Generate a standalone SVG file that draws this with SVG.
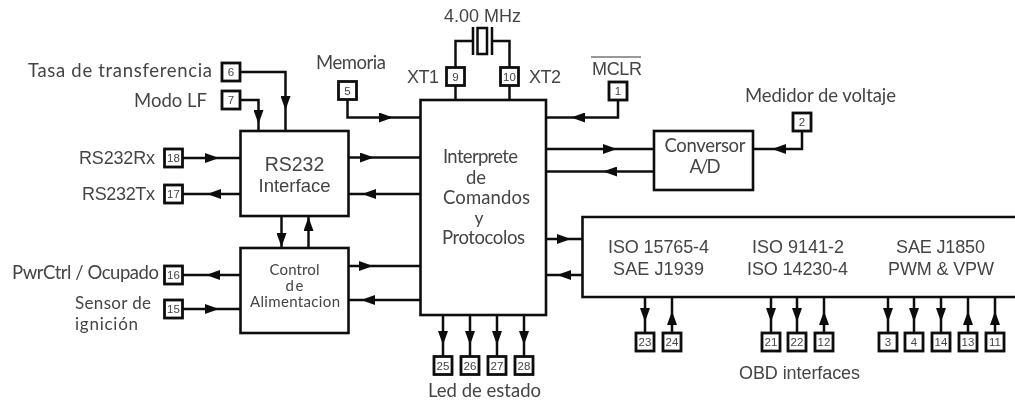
<svg xmlns="http://www.w3.org/2000/svg" width="1015" height="402" viewBox="0 0 1015 402">
<style>
.w{fill:none;stroke:#111;stroke-width:2.5}
.a{fill:none;stroke:#111;stroke-width:2.5;marker-end:url(#h)}
.b{fill:#fff;stroke:#111;stroke-width:2.6}
.p{fill:#fff;stroke:#111;stroke-width:2.8}
text{fill:#444;font-family:"Liberation Sans",Arial,sans-serif}
.g{font-family:"Lato","Liberation Sans",sans-serif;font-size:18.5px}
.c{font-size:15px}
.s{font-size:17px}
.y{font-size:17.5px}
.l{font-size:18px}
.n{font-size:11.500px;text-anchor:middle}
.m{text-anchor:middle}
</style>
<defs>
<marker id="h" markerUnits="userSpaceOnUse" viewBox="0 0 14 10" refX="14" refY="5" markerWidth="14" markerHeight="10" orient="auto"><path d="M0 0L14 5L0 10Z" fill="#111"/></marker>
<filter id="f" x="0" y="0" width="100%" height="100%"><feGaussianBlur stdDeviation="0.35"/></filter>
</defs>
<rect width="1015" height="402" fill="#fff"/>
<g filter="url(#f)">
<g id="connectors">
<path class="a" d="M240 72H285.500V110"/><path class="w" d="M285.500 110V131"/>
<path class="a" d="M240 100H258.500V124"/><path class="w" d="M258.500 124V131"/>
<path class="a" d="M347.500 100V117.500H393"/><path class="w" d="M393 117.500H420"/>
<path class="a" d="M183 158H219"/><path class="w" d="M219 158H240"/>
<path class="a" d="M240 194H207"/><path class="w" d="M207 194H183"/>
<path class="a" d="M348 157.500H374"/><path class="w" d="M374 157.500H420"/>
<path class="a" d="M420 194H362"/><path class="w" d="M362 194H348"/>
<path class="a" d="M281.500 216V247"/>
<path class="a" d="M308.500 248V217"/>
<path class="a" d="M240 275H206"/><path class="w" d="M206 275H183"/>
<path class="a" d="M183 309H219"/><path class="w" d="M219 309H240"/>
<path class="a" d="M348 266H373"/><path class="w" d="M373 266H420"/>
<path class="a" d="M420 300H361"/><path class="w" d="M361 300H348"/>
<path class="a" d="M618 100V117.500H571"/><path class="w" d="M571 117.500H546"/>
<path class="a" d="M546 149H617"/><path class="w" d="M617 149H654"/>
<path class="a" d="M654 171.500H603"/><path class="w" d="M603 171.500H546"/>
<path class="a" d="M802 132V149H772"/><path class="w" d="M772 149H753"/>
<path class="a" d="M546 239H571"/><path class="w" d="M571 239H582"/>
<path class="a" d="M582 275H557"/><path class="w" d="M557 275H546"/>
<path class="w" d="M455.500 67V41H473M492 41H509.500V67M455.500 86V100M509.500 86V100"/>
<path class="w" d="M473 27V55M492 27V55"/>
<rect class="w" x="477.500" y="28" width="9.500" height="26"/>
<path class="a" d="M443 315V345"/><path class="w" d="M443 345V356"/>
<path class="a" d="M470 315V345"/><path class="w" d="M470 345V356"/>
<path class="a" d="M497 315V345"/><path class="w" d="M497 345V356"/>
<path class="a" d="M524 315V345"/><path class="w" d="M524 345V356"/>
<path class="a" d="M645 297V322"/><path class="w" d="M645 322V332"/>
<path class="a" d="M672 332V311"/><path class="w" d="M672 311V297"/>
<path class="a" d="M771 297V322"/><path class="w" d="M771 322V332"/>
<path class="a" d="M797 297V322"/><path class="w" d="M797 322V332"/>
<path class="a" d="M824 332V311"/><path class="w" d="M824 311V297"/>
<path class="a" d="M888 297V322"/><path class="w" d="M888 322V332"/>
<path class="a" d="M914 297V322"/><path class="w" d="M914 322V332"/>
<path class="a" d="M941 297V322"/><path class="w" d="M941 322V332"/>
<path class="a" d="M968 332V311"/><path class="w" d="M968 311V297"/>
<path class="a" d="M995 332V311"/><path class="w" d="M995 311V297"/>
</g>
<g id="rs232"><rect class="b" x="240.500" y="131" width="108" height="85"/>
<text class="m" x="294.500" y="171" font-size="19.500">RS232</text><text class="m" x="294.500" y="192" font-size="18.500">Interface</text></g>
<g id="control"><rect class="b" x="240.500" y="248" width="108" height="85"/>
<text class="g c m" x="294.500" y="275" textLength="50">Control</text><text class="g c m" x="294.500" y="291" textLength="18">de</text><text class="g c m" x="295" y="307" textLength="90">Alimentacion</text></g>
<g id="main"><rect class="b" x="420.500" y="100" width="125.500" height="215"/>
<text class="g m" x="480.500" y="163" textLength="75">Interprete</text><text class="g m" x="476" y="184" textLength="20">de</text><text class="g m" x="486.500" y="204" textLength="87">Comandos</text><text class="g y m" x="479" y="224">y</text><text class="g m" x="483.500" y="244" textLength="83">Protocolos</text></g>
<g id="conversor"><rect class="b" x="654" y="131" width="99" height="59"/>
<text class="g m" x="705" y="152" textLength="81">Conversor</text><text class="g m" x="705" y="173" textLength="31">A/D</text></g>
<g id="obd"><path class="b" d="M1017 217H582.500V297H1017"/>
<text class="l m" x="658.500" y="253" textLength="101">ISO 15765-4</text><text class="l m" x="658.500" y="275" textLength="91">SAE J1939</text>
<text class="l m" x="798" y="253" textLength="92">ISO 9141-2</text><text class="l m" x="797.500" y="275" textLength="101">ISO 14230-4</text>
<text class="l m" x="940.500" y="253" textLength="89">SAE J1850</text><text class="l m" x="941" y="275" textLength="106">PWM &amp; VPW</text></g>
<g id="pin6"><rect class="p" x="222" y="63" width="18" height="18"/><text class="n" x="231" y="76">6</text></g>
<g id="pin7"><rect class="p" x="222" y="91" width="18" height="18"/><text class="n" x="231" y="104">7</text></g>
<g id="pin5"><rect class="p" x="338.500" y="81.500" width="18" height="18"/><text class="n" x="347.500" y="94.500">5</text></g>
<g id="pin18"><rect class="p" x="164.500" y="149" width="18" height="18"/><text class="n" x="173.500" y="162">18</text></g>
<g id="pin17"><rect class="p" x="164.500" y="185" width="18" height="18"/><text class="n" x="173.500" y="198">17</text></g>
<g id="pin16"><rect class="p" x="164.500" y="266" width="18" height="18"/><text class="n" x="173.500" y="279">16</text></g>
<g id="pin15"><rect class="p" x="164.500" y="300" width="18" height="18"/><text class="n" x="173.500" y="313">15</text></g>
<g id="pin9"><rect class="p" x="446.500" y="67.500" width="18" height="18"/><text class="n" x="455.500" y="80.500">9</text></g>
<g id="pin10"><rect class="p" x="500.500" y="67.500" width="18" height="18"/><text class="n" x="509.500" y="80.500">10</text></g>
<g id="pin1"><rect class="p" x="609" y="82" width="18" height="18"/><text class="n" x="618" y="95">1</text></g>
<g id="pin2"><rect class="p" x="793" y="113" width="18" height="18"/><text class="n" x="802" y="126">2</text></g>
<g id="pin25"><rect class="p" x="434" y="356.500" width="18" height="18"/><text class="n" x="443" y="369.500">25</text></g>
<g id="pin26"><rect class="p" x="461" y="356.500" width="18" height="18"/><text class="n" x="470" y="369.500">26</text></g>
<g id="pin27"><rect class="p" x="488" y="356.500" width="18" height="18"/><text class="n" x="497" y="369.500">27</text></g>
<g id="pin28"><rect class="p" x="515" y="356.500" width="18" height="18"/><text class="n" x="524" y="369.500">28</text></g>
<g id="pin23"><rect class="p" x="636" y="333" width="18" height="18"/><text class="n" x="645" y="346">23</text></g>
<g id="pin24"><rect class="p" x="663" y="333" width="18" height="18"/><text class="n" x="672" y="346">24</text></g>
<g id="pin21"><rect class="p" x="762" y="333" width="18" height="18"/><text class="n" x="771" y="346">21</text></g>
<g id="pin22"><rect class="p" x="788" y="333" width="18" height="18"/><text class="n" x="797" y="346">22</text></g>
<g id="pin12"><rect class="p" x="815" y="333" width="18" height="18"/><text class="n" x="824" y="346">12</text></g>
<g id="pin3"><rect class="p" x="879" y="333" width="18" height="18"/><text class="n" x="888" y="346">3</text></g>
<g id="pin4"><rect class="p" x="905" y="333" width="18" height="18"/><text class="n" x="914" y="346">4</text></g>
<g id="pin14"><rect class="p" x="932" y="333" width="18" height="18"/><text class="n" x="941" y="346">14</text></g>
<g id="pin13"><rect class="p" x="959" y="333" width="18" height="18"/><text class="n" x="968" y="346">13</text></g>
<g id="pin11"><rect class="p" x="986" y="333" width="18" height="18"/><text class="n" x="995" y="346">11</text></g>
<g id="labels">
<text class="g" x="28" y="77" textLength="184">Tasa de transferencia</text>
<text class="g" x="134" y="107" textLength="73">Modo LF</text>
<text class="g" x="316" y="69" textLength="70">Memoria</text>
<text class="l" x="79" y="164" textLength="76">RS232Rx</text>
<text class="l" x="82" y="200" textLength="73">RS232Tx</text>
<text class="g" x="12" y="279" textLength="147">PwrCtrl / Ocupado</text>
<text class="g s" x="75" y="309" textLength="76">Sensor de</text>
<text class="g s" x="75" y="330" textLength="63">ignición</text>
<text class="l" x="444" y="22" textLength="77">4.00 MHz</text>
<text class="l" x="407" y="83" textLength="32">XT1</text>
<text class="l" x="529" y="83" textLength="32">XT2</text>
<text class="l" x="592" y="75" textLength="50">MCLR</text>
<path d="M591 57H641" fill="none" stroke="#333" stroke-width="1.2"/>
<text class="g" x="745" y="102" textLength="151">Medidor de voltaje</text>
<text class="g" x="428" y="397" textLength="113">Led de estado</text>
<text class="l" x="739" y="379" textLength="121">OBD interfaces</text>
</g>
</g>
</svg>
